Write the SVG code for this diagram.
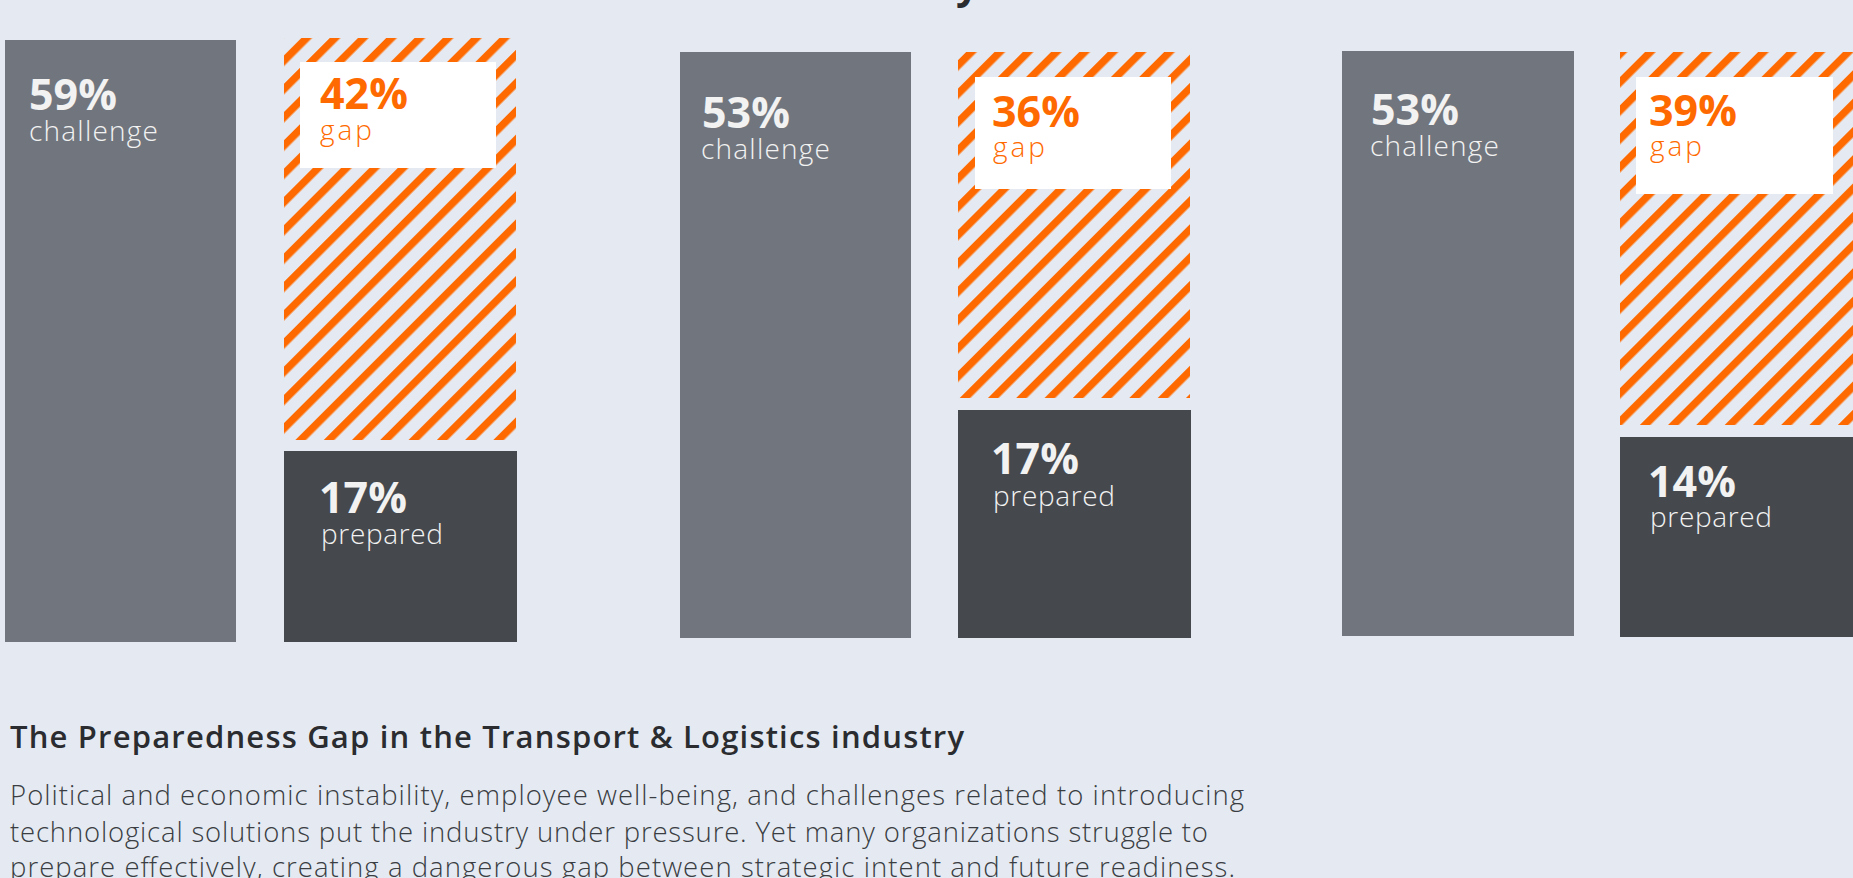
<svg xmlns="http://www.w3.org/2000/svg" width="1853" height="878" viewBox="0 0 1853 878">
  <defs>
    <pattern id="hatch" patternUnits="userSpaceOnUse" width="20" height="20" patternTransform="rotate(45)">
      <rect x="0" y="0" width="20" height="20" fill="#e5eaf2"/>
      <rect x="0" y="0" width="7.5" height="20" fill="#ff6a00"/>
    </pattern>
    <style>
      .bg { fill: #e5eaf2; }
      .challenge { fill: #71767e; }
      .prepared { fill: #45484d; }
      .gapbar { fill: url(#hatch); }
      .gapbox { fill: #ffffff; }
      .pct { font-family: "Open Sans", "Liberation Sans", sans-serif; font-weight: 700; font-size: 43px; }
      .lbl { font-family: "Open Sans", "Liberation Sans", sans-serif; font-weight: 300; font-size: 28px; }
      .light { fill: #f2f2f2; }
      .orange { fill: #ff6a00; }
      .heading { font-family: "Open Sans", "Liberation Sans", sans-serif; font-weight: 600; font-size: 31px; fill: #2a2c30; }
      .body { font-family: "Open Sans", "Liberation Sans", sans-serif; font-weight: 300; font-size: 27.5px; fill: #3a3d42; }
    </style>
  </defs>

  <rect class="bg" x="0" y="0" width="1853" height="878"/>

  <g id="title-fragment">
    <text x="956" y="-1" font-family="Open Sans, Liberation Sans, sans-serif" font-weight="700" font-size="40" fill="#2a2c30">y</text>
  </g>

  <!-- Group 1 -->
  <g id="g1-challenge">
    <rect class="challenge" x="5" y="40" width="231" height="602"/>
    <text class="pct light" x="29" y="110">59%</text>
    <text class="lbl light" x="29" y="141" textLength="129">challenge</text>
  </g>
  <g id="g1-gap">
    <rect class="gapbar" x="284" y="38" width="232" height="402"/>
    <rect class="gapbox" x="300" y="62" width="196" height="106"/>
    <text class="pct orange" x="320" y="109">42%</text>
    <text class="lbl orange" x="320" y="140" textLength="52">gap</text>
  </g>
  <g id="g1-prepared">
    <rect class="prepared" x="284" y="451" width="233" height="191"/>
    <text class="pct light" x="319" y="513">17%</text>
    <text class="lbl light" x="321" y="544" textLength="122">prepared</text>
  </g>

  <!-- Group 2 -->
  <g id="g2-challenge">
    <rect class="challenge" x="680" y="52" width="231" height="586"/>
    <text class="pct light" x="702" y="128">53%</text>
    <text class="lbl light" x="701" y="159" textLength="129">challenge</text>
  </g>
  <g id="g2-gap">
    <rect class="gapbar" x="958" y="52" width="232" height="346"/>
    <rect class="gapbox" x="975" y="77" width="196" height="112"/>
    <text class="pct orange" x="992" y="127">36%</text>
    <text class="lbl orange" x="993" y="157" textLength="52">gap</text>
  </g>
  <g id="g2-prepared">
    <rect class="prepared" x="958" y="410" width="233" height="228"/>
    <text class="pct light" x="991" y="474">17%</text>
    <text class="lbl light" x="993" y="506" textLength="122">prepared</text>
  </g>

  <!-- Group 3 -->
  <g id="g3-challenge">
    <rect class="challenge" x="1342" y="51" width="232" height="585"/>
    <text class="pct light" x="1371" y="125">53%</text>
    <text class="lbl light" x="1370" y="156" textLength="129">challenge</text>
  </g>
  <g id="g3-gap">
    <rect class="gapbar" x="1620" y="52" width="233" height="373"/>
    <rect class="gapbox" x="1636" y="77" width="197" height="117"/>
    <text class="pct orange" x="1649" y="126">39%</text>
    <text class="lbl orange" x="1650" y="156" textLength="52">gap</text>
  </g>
  <g id="g3-prepared">
    <rect class="prepared" x="1620" y="437" width="233" height="200"/>
    <text class="pct light" x="1648" y="497">14%</text>
    <text class="lbl light" x="1650" y="527" textLength="122">prepared</text>
  </g>

  <!-- Caption -->
  <g id="caption">
    <text class="heading" x="10" y="748" textLength="954">The Preparedness Gap in the Transport &amp; Logistics industry</text>
    <text class="body" x="10" y="805" textLength="1234">Political and economic instability, employee well-being, and challenges related to introducing</text>
    <text class="body" x="10" y="842" textLength="1198">technological solutions put the industry under pressure. Yet many organizations struggle to</text>
    <text class="body" x="10" y="877" textLength="1225">prepare effectively, creating a dangerous gap between strategic intent and future readiness.</text>
  </g>
</svg>
